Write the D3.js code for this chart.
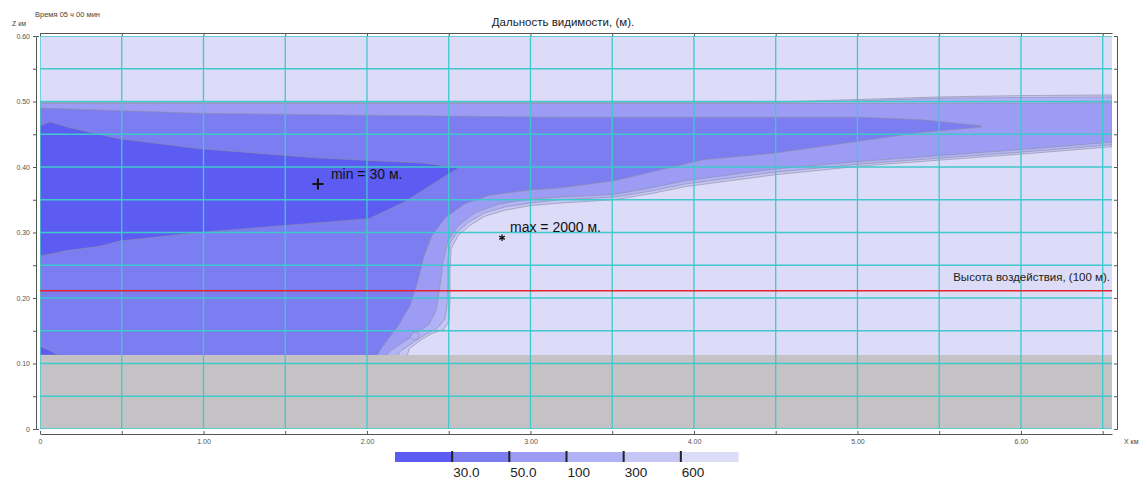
<!DOCTYPE html>
<html>
<head>
<meta charset="utf-8">
<script src="https://cdn.jsdelivr.net/npm/d3@7"></script>
<style>
  body { margin: 0; background: #fff; }
  text { font-family: "Liberation Sans", Arial, sans-serif; }
</style>
</head>
<body>
<svg id="chart" width="1141" height="481"></svg>
<script>
// Visibility range contour levels, m
const levels = [30, 50, 100, 300, 600];
const legendLabels = ["30.0", "50.0", "100", "300", "600"];
// fill for: <30, 30-50, 50-100, 100-300, 300-600, >600
const levelColors = ["#5c5cf2", "#7d7df2", "#9c9cf5", "#b2b2f6", "#c7c7f7", "#dcdbf8"];

// Contour boundaries, [x km, z km]; top edges run left->right, bottom edges right->left
const edge600Top = [[0,0.499],[2,0.499],[4,0.499],[4.6,0.5],[5,0.503],[5.5,0.507],[6,0.509],[6.557,0.51]];
const edge600Bottom = [[6.557,0.431],[6.018,0.42],[5.04,0.402],[4.489,0.388],[3.945,0.37],[3.731,0.359],[3.511,0.35],[3.18,0.345],[2.997,0.341],[2.844,0.334],[2.722,0.325],[2.63,0.311],[2.557,0.295],[2.514,0.275],[2.508,0.241],[2.508,0.195],[2.502,0.165],[2.47,0.152],[2.40,0.146],[2.33,0.136],[2.26,0.123],[2.23,0.10]];

const edge300Top = [[0,0.498],[2,0.498],[4,0.498],[4.6,0.499],[5,0.501],[5.5,0.505],[6,0.506],[6.557,0.507]];
const edge300Bottom = [[6.557,0.434],[6.018,0.423],[5.04,0.405],[4.489,0.392],[3.945,0.374],[3.731,0.363],[3.511,0.354],[3.18,0.35],[2.997,0.345],[2.844,0.339],[2.722,0.33],[2.63,0.317],[2.557,0.302],[2.508,0.284],[2.495,0.256],[2.495,0.218],[2.489,0.188],[2.477,0.168],[2.43,0.154],[2.35,0.143],[2.27,0.13],[2.2,0.118],[2.17,0.10]];

const edge100Top = [[0,0.497],[3.2,0.497],[4.5,0.497],[5,0.497],[6.557,0.498]];
const edge100Bottom = [[6.557,0.438],[6.018,0.427],[5.04,0.409],[4.489,0.397],[3.945,0.379],[3.731,0.368],[3.511,0.358],[3.18,0.354],[2.997,0.351],[2.813,0.344],[2.661,0.33],[2.557,0.31],[2.495,0.287],[2.465,0.256],[2.446,0.218],[2.422,0.18],[2.38,0.16],[2.25,0.137],[2.14,0.119],[2.08,0.10]];

const edge50Top = [[0,0.49],[0.979,0.482],[2,0.479],[3.2,0.476],[4,0.476],[5.04,0.476],[5.4,0.472],[5.755,0.463]];
const edge50Bottom = [[5.755,0.461],[5.364,0.452],[4.489,0.421],[4.055,0.411],[3.768,0.394],[3.511,0.379],[3.18,0.368],[2.997,0.365],[2.752,0.357],[2.599,0.344],[2.477,0.322],[2.398,0.295],[2.349,0.264],[2.312,0.226],[2.263,0.188],[2.19,0.157],[2.098,0.127],[2.031,0.10]];

const edge30Top = [[0,0.463],[0.061,0.469],[0.183,0.46],[0.489,0.443],[0.979,0.428],[1.688,0.414],[2.343,0.406],[2.563,0.399]];
const edge30Bottom = [[2.453,0.382],[2.232,0.347],[2.012,0.321],[1.468,0.31],[0.979,0.3],[0.489,0.287],[0.367,0.279],[0.159,0.272],[0.061,0.267],[0,0.264]];

const core30Ground = [[0,0.126],[0.06,0.12],[0.11,0.113],[0,0.113]];
const pocket300 = [[2.265,0.14],[2.28,0.147],[2.305,0.148],[2.32,0.143],[2.305,0.137],[2.28,0.136]];

const groundTop = 0.113;           // km
const impactHeight = 0.211;        // km, 100 m above ground
const minPoint = { x: 1.70, z: 0.374, value: 30 };
const maxPoint = { x: 2.826, z: 0.292, value: 2000 };

const xTicks = d3.range(0, 6.51, 0.5);
const zTicks = d3.range(0, 0.6001, 0.05);
const xDomain = [0, 6.557];
const zDomain = [0, 0.6];

const svg = d3.select("#chart");
const x = d3.scaleLinear().domain(xDomain).range([40, 1112]);
const y = d3.scaleLinear().domain(zDomain).range([429, 36]);

svg.append("defs").append("clipPath").attr("id", "plot-clip")
  .append("rect")
  .attr("x", x(xDomain[0])).attr("y", y(zDomain[1]))
  .attr("width", x(xDomain[1]) - x(xDomain[0]))
  .attr("height", y(zDomain[0]) - y(zDomain[1]));

const plot = svg.append("g").attr("clip-path", "url(#plot-clip)");

// >600 background
plot.append("rect")
  .attr("x", x(xDomain[0])).attr("y", y(zDomain[1]))
  .attr("width", x(xDomain[1]) - x(xDomain[0]))
  .attr("height", y(zDomain[0]) - y(zDomain[1]))
  .attr("fill", levelColors[5]);

const line = d3.line().x(d => x(d[0])).y(d => y(d[1]));

function region(topEdge, bottomEdge) {
  const pts = topEdge.concat(bottomEdge);
  const last = pts[pts.length - 1];
  if (last[1] < groundTop) pts.push([0, last[1]]);
  return pts;
}

const regions = [
  { pts: region(edge600Top, edge600Bottom), color: levelColors[4] },
  { pts: region(edge300Top, edge300Bottom), color: levelColors[3] },
  { pts: region(edge100Top, edge100Bottom), color: levelColors[2] },
  { pts: region(edge50Top, edge50Bottom), color: levelColors[1] },
  { pts: region(edge30Top, edge30Bottom), color: levelColors[0] },
  { pts: core30Ground, color: levelColors[0] },
  { pts: pocket300, color: levelColors[3] }
];

plot.selectAll("path.contour").data(regions).join("path")
  .attr("class", "contour")
  .attr("d", d => line(d.pts) + "Z")
  .attr("fill", d => d.color)
  .attr("stroke", "#8d8da6")
  .attr("stroke-width", 0.8)
  .attr("stroke-opacity", 0.8);

// ground
plot.append("rect")
  .attr("x", x(xDomain[0])).attr("y", y(groundTop))
  .attr("width", x(xDomain[1]) - x(xDomain[0]))
  .attr("height", y(0) - y(groundTop))
  .attr("fill", "#c4c2c4");

// grid
const grid = plot.append("g").attr("stroke", "#3fc9cc").attr("stroke-width", 1.3);
grid.selectAll("line.v").data(xTicks).join("line").attr("class", "v")
  .attr("x1", d => x(d)).attr("x2", d => x(d))
  .attr("y1", y(zDomain[1])).attr("y2", y(0));
grid.selectAll("line.h").data(zTicks).join("line").attr("class", "h")
  .attr("y1", d => y(d)).attr("y2", d => y(d))
  .attr("x1", x(xDomain[0])).attr("x2", x(xDomain[1]));

// impact height
svg.append("line")
  .attr("x1", x(xDomain[0])).attr("x2", x(xDomain[1]))
  .attr("y1", y(impactHeight)).attr("y2", y(impactHeight))
  .attr("stroke", "#e8222a").attr("stroke-width", 1.6);
svg.append("text")
  .attr("x", x(xDomain[1]) - 2).attr("y", y(impactHeight) - 10)
  .attr("text-anchor", "end").attr("font-size", 11.5).attr("fill", "#222")
  .text("Высота воздействия, (100 м).");

// min / max markers
const mx = x(minPoint.x), my = y(minPoint.z);
svg.append("path")
  .attr("d", `M${mx - 5.5},${my}H${mx + 5.5}M${mx},${my - 5.5}V${my + 5.5}`)
  .attr("stroke", "#111").attr("stroke-width", 2);
svg.append("text").attr("x", mx + 13).attr("y", my - 5)
  .attr("font-size", 14).attr("fill", "#111")
  .text(`min = ${minPoint.value} м.`);

const Mx = x(maxPoint.x), My = y(maxPoint.z);
svg.append("path")
  .attr("transform", `translate(${Mx},${My})`)
  .attr("d", d3.symbol(d3.symbolAsterisk, 28)())
  .attr("stroke", "#111").attr("stroke-width", 1.3).attr("fill", "none");
svg.append("text").attr("x", Mx + 8).attr("y", My - 6)
  .attr("font-size", 14).attr("fill", "#111")
  .text(`max = ${maxPoint.value} м.`);

// axes
const fmtZ = d => d === 0 ? "0" : (Math.round(d * 100) % 10 === 0 ? d3.format(".2f")(d) : "");
const fmtX = d => d === 0 ? "0" : (Math.round(d * 10) % 10 === 0 ? d3.format(".2f")(d) : "");

function styleAxis(g) {
  g.selectAll("path.domain").attr("stroke", "#555");
  g.selectAll(".tick line").attr("stroke", "#555");
  g.selectAll(".tick text").attr("fill", "#555").attr("font-size", 7)
    .attr("font-family", "Liberation Sans, Arial, sans-serif");
}

svg.append("g").attr("transform", "translate(36,0)")
  .call(d3.axisLeft(y).tickValues(zTicks).tickSizeInner(3).tickSizeOuter(-3).tickPadding(3).tickFormat(fmtZ))
  .call(styleAxis);
svg.append("g").attr("transform", "translate(1117,0)")
  .call(d3.axisRight(y).tickValues(zTicks).tickSizeInner(-3).tickSizeOuter(-3).tickFormat(""))
  .call(styleAxis);
svg.append("g").attr("transform", "translate(0,434)")
  .call(d3.axisBottom(x).tickValues(xTicks).tickSizeInner(-3).tickSizeOuter(0).tickPadding(5).tickFormat(fmtX))
  .call(styleAxis);
svg.append("g").attr("transform", "translate(0,33)")
  .call(d3.axisTop(x).tickValues(xTicks).tickSizeInner(-3).tickSizeOuter(0).tickFormat(""))
  .call(styleAxis);

// axis captions and headers
svg.append("text").attr("x", 12).attr("y", 26).attr("font-size", 7).attr("fill", "#444").text("Z км");
svg.append("text").attr("x", 1124).attr("y", 444).attr("font-size", 7).attr("fill", "#444").text("X км");
svg.append("text").attr("x", 35).attr("y", 17).attr("font-size", 7.5).attr("fill", "#444").text("Время 05 ч 00 мин");
svg.append("text").attr("x", 563).attr("y", 26).attr("text-anchor", "middle")
  .attr("font-size", 11.5).attr("fill", "#222").text("Дальность видимости, (м).");

// legend
const lg = d3.scaleBand().domain(d3.range(levelColors.length)).range([395, 738]).paddingInner(0);
const legend = svg.append("g");
legend.selectAll("rect").data(levelColors).join("rect")
  .attr("x", (d, i) => lg(i)).attr("y", 452)
  .attr("width", lg.bandwidth() + 0.5).attr("height", 10)
  .attr("fill", d => d);
legend.selectAll("line").data(levels).join("line")
  .attr("x1", (d, i) => lg(i + 1)).attr("x2", (d, i) => lg(i + 1))
  .attr("y1", 451).attr("y2", 462)
  .attr("stroke", "#222").attr("stroke-width", 2);
legend.selectAll("text").data(legendLabels).join("text")
  .attr("x", (d, i) => lg(i + 1) + 1).attr("y", 477)
  .attr("font-size", 13.5).attr("fill", "#222")
  .text(d => d);
</script>
</body>
</html>
